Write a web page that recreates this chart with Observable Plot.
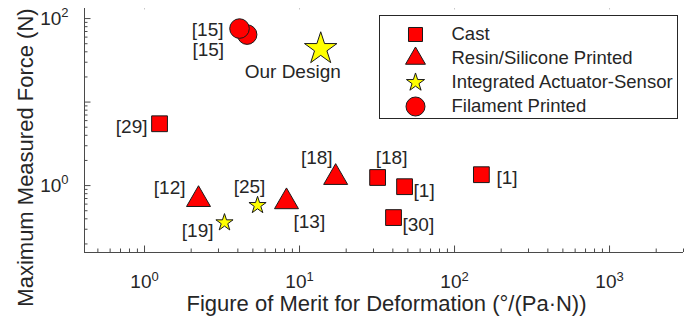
<!DOCTYPE html>
<html>
<head>
<meta charset="utf-8">
<script src="https://cdn.jsdelivr.net/npm/d3@7"></script>
<script src="https://cdn.jsdelivr.net/npm/@observablehq/plot@0.6"></script>
<style>
  html, body { margin: 0; padding: 0; background: #fff; }
  #chart { position: relative; width: 686px; height: 320px; overflow: hidden;
           font-family: "Liberation Sans", Arial, sans-serif; }
  #legend { position: absolute; left: 378px; top: 14px; }
</style>
</head>
<body>
<div id="chart"><div id="legend"></div></div>
<script>
// Fabrication categories and the marker used for each
const categories = ["Cast", "Resin/Silicone Printed", "Integrated Actuator-Sensor", "Filament Printed"];
const symbols = ["square", "triangle", "star", "circle"];
const fills = ["#ff0000", "#ff0000", "#ffff00", "#ff0000"];

// Reported devices: reference, category index, figure of merit, max force
const refs  = ["[29]", "[18]", "[1]", "[30]", "[1]", "[12]", "[13]", "[18]", "[19]", "[25]", "Our Design", "[15]", "[15]"];
const kinds = [0, 0, 0, 0, 0, 1, 1, 1, 2, 2, 2, 3, 3];
const merit = [1.25, 31.9, 47.6, 40.4, 149, 2.23, 8.24, 17.1, 3.28, 5.36, 13.7, 4.59, 4.10];
const force = [5.5, 1.25, 0.97, 0.414, 1.35, 0.68, 0.64, 1.25, 0.36, 0.58, 43.4, 64.3, 75.9];

// Log-axis ticks
const xMajor = [1, 10, 100, 1000];
const xMinor = [0.5, 0.6, 0.7, 0.8, 0.9, 2, 3, 4, 5, 6, 7, 8, 9,
                20, 30, 40, 50, 60, 70, 80, 90, 200, 300, 400, 500, 600, 700, 800, 900, 2000, 3000];
const yMajor = [1, 10, 100];
const yMinor = [0.2, 0.3, 0.4, 0.5, 0.6, 0.7, 0.8, 0.9, 2, 3, 4, 5, 6, 7, 8, 9,
                20, 30, 40, 50, 60, 70, 80, 90];
const yLabelled = [1, 100];
const xTitle = "Figure of Merit for Deformation (°/(Pa·N))";
const yTitle = "Maximum Measured Force (N)";

const W = 686, H = 320;
const mTop = 8, mRight = 3, mBottom = 68, mLeft = 84;
const frameH = H - mTop - mBottom;
const frameW = W - mLeft - mRight;
const ink = "#262626";
const axisInk = "#4a4a4a";
const edge = "#1a1a1a";
const font = "Liberation Sans, Arial, sans-serif";

// marker radii per category (Plot r = sqrt(area / π))
const markerR = [8.9, 8.9, 5.4, 9.8];
const bigStarR = 10.2;

const idx = d3.range(refs.length);
const X = i => merit[i], Y = i => force[i];

const dotMarks = categories.map((c, k) =>
  Plot.dot(idx.filter(i => kinds[i] === k && refs[i] !== "Our Design"), {
    x: X, y: Y, symbol: symbols[k], fill: fills[k], stroke: edge, strokeWidth: 1, r: markerR[k]
  })
);
const ours = Plot.dot(idx.filter(i => refs[i] === "Our Design"), {
  x: X, y: Y, symbol: "star", fill: fills[2], stroke: edge, strokeWidth: 1, r: bigStarR
});

// label placement relative to each marker
const place = [
  {anchor: "end", dx: -12, dy: 3},
  {anchor: "middle", dx: 14, dy: -20},
  {anchor: "start", dx: 9, dy: 4},
  {anchor: "start", dx: 9, dy: 7},
  {anchor: "start", dx: 15, dy: 3},
  {anchor: "end", dx: -13, dy: -12},
  {anchor: "start", dx: 7, dy: 20},
  {anchor: "end", dx: -3, dy: -20},
  {anchor: "end", dx: -11, dy: 8},
  {anchor: "middle", dx: -8, dy: -18},
  {anchor: "middle", dx: -28, dy: 23},
  {anchor: "end", dx: -23, dy: 15},
  {anchor: "end", dx: -16, dy: 1}
];
const labelMarks = idx.map(i =>
  Plot.text([i], {
    x: X, y: Y, text: j => refs[j], textAnchor: place[i].anchor,
    dx: place[i].dx, dy: place[i].dy, fontSize: 19, fill: ink
  })
);

const sup = d => `10^${Math.round(Math.log10(d))}`;

const chart = Plot.plot({
  width: W, height: H,
  marginTop: mTop, marginRight: mRight, marginBottom: mBottom, marginLeft: mLeft,
  style: {fontFamily: font, background: "white", color: ink},
  x: {type: "log", domain: [0.41, 3000]},
  y: {type: "log", domain: [0.158, 132]},
  marks: [
    Plot.ruleY([0.158], {stroke: axisInk}),
    Plot.ruleX([0.41], {stroke: axisInk}),
    Plot.tickX(xMinor, {x: d => d, insetTop: frameH - 3.5, stroke: axisInk}),
    Plot.tickX(xMajor, {x: d => d, insetTop: frameH - 6.5, stroke: axisInk}),
    Plot.tickX(xMajor, {x: d => d, insetBottom: frameH - 1.5, stroke: "#c8c8c8"}),
    Plot.tickY(yMinor, {y: d => d, insetRight: frameW - 3.5, stroke: axisInk}),
    Plot.tickY(yMajor, {y: d => d, insetRight: frameW - 6.5, stroke: axisInk}),
    Plot.axisX(xMajor, {tickSize: 0, tickPadding: 22, tickFormat: sup, fontSize: 19, label: null, fill: ink}),
    Plot.axisY(yLabelled, {tickSize: 0, tickPadding: 16, tickFormat: sup, fontSize: 19, label: null, fill: ink}),
    Plot.text([xTitle], {frameAnchor: "bottom", textAnchor: "middle", lineAnchor: "middle",
      dx: 2.5, dy: 51, fontSize: 22, fill: ink}),
    Plot.text([yTitle], {frameAnchor: "left", textAnchor: "middle", lineAnchor: "middle",
      rotate: -90, dx: -59, dy: 27, fontSize: 22, fill: ink}),
    ...labelMarks,
    ...dotMarks.slice(0, 2),
    dotMarks[2], ours,
    dotMarks[3]
  ]
});

// power-of-ten tick labels: base plus raised exponent
d3.select(chart).selectAll('g[aria-label="x-axis tick label"] text, g[aria-label="y-axis tick label"] text')
  .each(function () {
    const t = d3.select(this);
    const [base, exp] = t.text().split("^");
    t.text(null);
    t.append("tspan").text(base);
    t.append("tspan").attr("font-size", 13).attr("dy", "-7.5").text(exp);
  });

const legend = Plot.plot({
  width: 300, height: 105, margin: 1,
  style: {fontFamily: font, background: "white", color: ink},
  y: {type: "point", domain: categories, axis: null, padding: 0, insetTop: 18, insetBottom: 11},
  symbol: {domain: categories, range: symbols},
  color: {domain: categories, range: fills},
  r: {type: "identity"},
  marks: [
    Plot.frame({stroke: ink, strokeWidth: 1}),
    Plot.dot(categories, {
      y: d => d, frameAnchor: "left", dx: 36, symbol: d => d, fill: d => d,
      r: (d, i) => [7.9, 7.4, 5.7, 9.5][i], stroke: edge, strokeWidth: 1
    }),
    Plot.text(categories, {y: d => d, text: d => d, frameAnchor: "left", dx: 72,
      textAnchor: "start", fontSize: 18.5, fill: ink})
  ]
});

document.getElementById("chart").prepend(chart);
document.getElementById("legend").append(legend);
</script>
</body>
</html>
